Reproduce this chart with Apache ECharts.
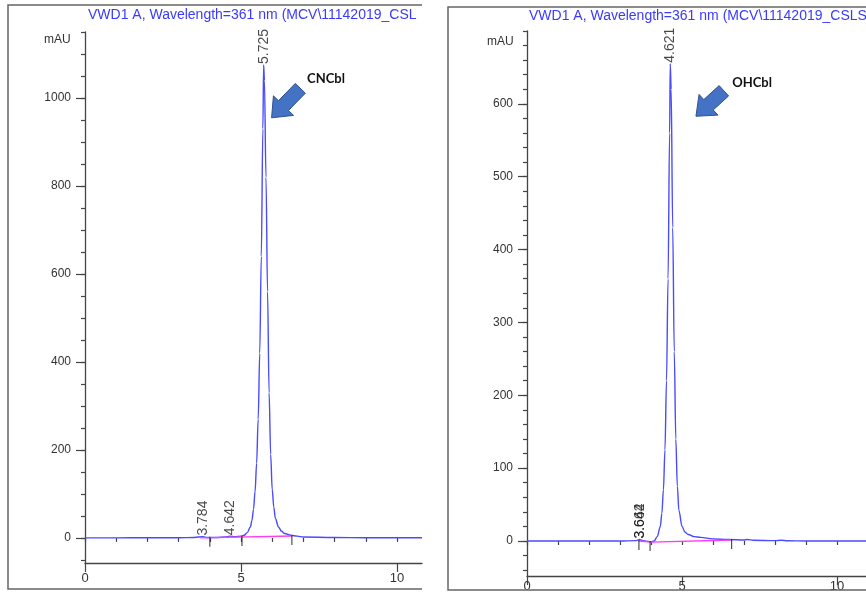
<!DOCTYPE html>
<html>
<head>
<meta charset="utf-8">
<title>VWD1 A chromatograms</title>
<script src="https://cdn.jsdelivr.net/npm/echarts@6/dist/echarts.min.js"></script>
<style>
  html, body { margin: 0; padding: 0; background: #fff; }
  #chart { width: 866px; height: 593px; }
</style>
</head>
<body>
<div id="chart"></div>
<script>
// Detector trace title (shared by both runs)
const traceTitle = 'VWD1 A, Wavelength=361 nm (MCV\\11142019_CSLS_STD.D)';

// CNCbl run: retention time (min) and absorbance (mAU)
const cnTimes  = [0, 1, 2, 3, 3.5, 3.784, 3.9, 4.2, 4.5, 4.642, 4.8, 5.0, 5.1, 5.2, 5.3, 5.35, 5.4, 5.45, 5.5, 5.55, 5.6, 5.65, 5.7, 5.725, 5.75, 5.8, 5.85, 5.9, 5.95, 6.0, 6.05, 6.1, 6.2, 6.3, 6.4, 6.6, 6.8, 7.0, 8.0, 9.0, 10.0, 10.8];
const cnSignal = [0, 0, 0.5, 0.5, 1, 3, 1, 1, 2, 4, 3, 4, 6, 12, 25, 40, 65, 105, 170, 270, 420, 640, 930, 1075, 1040, 820, 560, 330, 190, 110, 70, 45, 25, 15, 10, 6, 4, 2, 1, 0.5, 0.5, 0.5];
const cnPeakTimes   = [3.784, 4.642, 5.725];
const cnPeakHeights = [3, 4, 1075];
const cnBaseTimes   = [3.69, 6.63];
const cnBaseValues  = [0, 4.5];
const cnBaseMarkTimes  = [4.0, 5.03, 6.63];
const cnBaseMarkValues = [0.5, 2, 4.5];

// OHCbl run
const ohTimes  = [0, 2, 3, 3.5, 3.642, 3.664, 3.8, 4.0, 4.1, 4.2, 4.3, 4.35, 4.4, 4.45, 4.5, 4.55, 4.6, 4.621, 4.65, 4.7, 4.75, 4.8, 4.85, 4.9, 5.0, 5.1, 5.2, 5.4, 5.6, 6.0, 6.5, 7.0, 7.1, 7.3, 8.0, 8.2, 8.4, 9.0, 10.94];
const ohSignal = [0, 0, 0, 0.5, 2, 2, 0, -1, 0, 6, 20, 38, 70, 125, 220, 360, 560, 655, 620, 430, 260, 140, 75, 42, 20, 12, 9, 6, 5, 3, 2, 1.5, 2, 1, 0.5, 1, 0.3, 0, 0];
const ohPeakTimes   = [3.642, 3.664, 4.621];
const ohPeakHeights = [2, 2, 655];
const ohBaseTimes   = [3.6, 4.0, 6.6];
const ohBaseValues  = [0, -1.5, 1.5];
const ohBaseMarkTimes  = [3.61, 3.97, 6.6];
const ohBaseMarkValues = [0, -1.5, 1.5];

// Axis ticks and labels
const timeLabels = [0, 5, 10];
const timeMinorTicks = [0, 1, 2, 3, 4, 5, 6, 7, 8, 9, 10];
const cnAbsLabels = [0, 200, 400, 600, 800, 1000];
const cnAbsMinorTicks = [-50, 0, 50, 100, 150, 200, 250, 300, 350, 400, 450, 500, 550, 600, 650, 700, 750, 800, 850, 900, 950, 1000, 1050, 1100, 1150];
const ohAbsLabels = [0, 100, 200, 300, 400, 500, 600];
const ohAbsMinorTicks = [-40, -20, 0, 20, 40, 60, 80, 100, 120, 140, 160, 180, 200, 220, 240, 260, 280, 300, 320, 340, 360, 380, 400, 420, 440, 460, 480, 500, 520, 540, 560, 580, 600, 620, 640, 660, 680, 700];

const zip = (a, b) => a.map((v, i) => [v, b[i]]);

const FONT = 'Liberation Sans, Arial, sans-serif';
const AXIS = '#444';
const TRACE = '#4a4aff';
const BASE = '#ff3cf0';

function xAxes(gridIndex, max, labelMargin) {
  return [
    {
      type: 'value', gridIndex, min: 0, max,
      axisLine: { onZero: false, lineStyle: { color: AXIS, width: 1.3 } },
      axisTick: { customValues: timeLabels, length: 9, lineStyle: { color: AXIS, width: 1.2 } },
      axisLabel: { customValues: timeLabels, margin: labelMargin, color: '#333', fontFamily: FONT, fontSize: 13,
                   formatter: v => String(v) },
      splitLine: { show: false }
    },
    {
      type: 'value', gridIndex, min: 0, max, position: 'bottom',
      axisLine: { show: false },
      axisTick: { customValues: timeMinorTicks, length: 4, lineStyle: { color: AXIS, width: 1.2 } },
      axisLabel: { show: false },
      splitLine: { show: false }
    }
  ];
}

function yAxes(gridIndex, min, max, labels, minor) {
  return [
    {
      type: 'value', gridIndex, min, max,
      axisLine: { show: true, onZero: false, lineStyle: { color: AXIS, width: 1.3 } },
      axisTick: { show: true, customValues: labels, length: 9, lineStyle: { color: AXIS, width: 1.2 } },
      axisLabel: { customValues: labels, margin: 14, color: '#333', fontFamily: FONT, fontSize: 12,
                   formatter: v => String(v) },
      splitLine: { show: false }
    },
    {
      type: 'value', gridIndex, min, max, position: 'left',
      axisLine: { show: false },
      axisTick: { show: true, customValues: minor, length: 4, lineStyle: { color: AXIS, width: 1.2 } },
      axisLabel: { show: false },
      splitLine: { show: false }
    }
  ];
}

function traceSeries(xi, yi, times, values) {
  return {
    type: 'line', xAxisIndex: xi, yAxisIndex: yi,
    data: zip(times, values), showSymbol: false, smooth: 0.35, smoothMonotone: 'x',
    lineStyle: { color: TRACE, width: 1.4 }, silent: true, z: 3
  };
}

function baselineSeries(xi, yi, times, values) {
  return {
    type: 'line', xAxisIndex: xi, yAxisIndex: yi,
    data: zip(times, values), showSymbol: false,
    lineStyle: { color: BASE, width: 1.4 }, silent: true, z: 4
  };
}

function baseMarkSeries(xi, yi, times, values) {
  return {
    type: 'scatter', xAxisIndex: xi, yAxisIndex: yi,
    data: zip(times, values), symbol: 'rect', symbolSize: [1.2, 10], symbolOffset: [0, 4],
    itemStyle: { color: '#222' }, silent: true, z: 5
  };
}

function peakLabelSeries(xi, yi, times, heights) {
  return {
    type: 'scatter', xAxisIndex: xi, yAxisIndex: yi,
    data: zip(times, heights), symbolSize: 0, silent: true, z: 6,
    label: {
      show: true, position: 'top', distance: 1, rotate: 90,
      align: 'left', verticalAlign: 'middle',
      formatter: p => p.value[0].toFixed(3),
      color: '#1a1a1a', fontFamily: FONT, fontSize: 14
    }
  };
}

const chart = echarts.init(document.getElementById('chart'), null, { renderer: 'canvas' });

chart.setOption({
  animation: false,
  backgroundColor: '#ffffff',
  grid: [
    { left: 85, top: 32, width: 337, height: 531 },
    { left: 527, top: 31, width: 339, height: 545 }
  ],
  xAxis: [].concat(xAxes(0, 10.8, 9), xAxes(1, 10.935, 4)),
  yAxis: [].concat(
    yAxes(0, -57, 1150, cnAbsLabels, cnAbsMinorTicks),
    yAxes(1, -48, 700, ohAbsLabels, ohAbsMinorTicks)
  ),
  series: [
    traceSeries(0, 0, cnTimes, cnSignal),
    baselineSeries(0, 0, cnBaseTimes, cnBaseValues),
    baseMarkSeries(0, 0, cnBaseMarkTimes, cnBaseMarkValues),
    peakLabelSeries(0, 0, cnPeakTimes, cnPeakHeights),
    traceSeries(2, 2, ohTimes, ohSignal),
    baselineSeries(2, 2, ohBaseTimes, ohBaseValues),
    baseMarkSeries(2, 2, ohBaseMarkTimes, ohBaseMarkValues),
    peakLabelSeries(2, 2, ohPeakTimes, ohPeakHeights)
  ]
});

// Block arrow polygon from tail point to tip point
function arrowPoints(tail, tip) {
  const dx = tip[0] - tail[0], dy = tip[1] - tail[1];
  const len = Math.hypot(dx, dy);
  const ux = dx / len, uy = dy / len;
  const nx = -uy, ny = ux;
  const shaft = 7, head = 14, headLen = 17;
  const bx = tip[0] - ux * headLen, by = tip[1] - uy * headLen;
  return [
    [tail[0] + nx * shaft, tail[1] + ny * shaft],
    [bx + nx * shaft, by + ny * shaft],
    [bx + nx * head, by + ny * head],
    tip,
    [bx - nx * head, by - ny * head],
    [bx - nx * shaft, by - ny * shaft],
    [tail[0] - nx * shaft, tail[1] - ny * shaft]
  ];
}

const px = (gi, pt) => chart.convertToPixel({ xAxisIndex: gi * 2, yAxisIndex: gi * 2 }, pt);

const cnArrowTail = px(0, [6.9, 1022]);
const cnArrowTip  = px(0, [5.98, 955]);
const ohArrowTail = px(1, [6.35, 618]);
const ohArrowTip  = px(1, [5.45, 583]);

const titleStyle = {
  text: traceTitle, fill: '#3a3aff', font: '14px ' + FONT
};

chart.setOption({
  graphic: [
    // panel frames
    { type: 'polyline', shape: { points: [[422, 5], [8, 5], [8, 589], [422, 589]] },
      style: { stroke: '#666', lineWidth: 1.5, fill: null }, z: 1 },
    { type: 'polyline', shape: { points: [[866, 7], [448, 7], [448, 590], [866, 590]] },
      style: { stroke: '#666', lineWidth: 1.5, fill: null }, z: 1 },
    // trace titles (the left one is cut at its panel edge)
    { type: 'text', left: 88, top: 8,
      style: Object.assign({}, titleStyle, { width: 336, overflow: 'truncate', ellipsis: '' }), z: 10 },
    { type: 'text', left: 529, top: 9, style: titleStyle, z: 10 },
    // gap between the two panels
    { type: 'rect', shape: { x: 423, y: 0, width: 24, height: 593 },
      style: { fill: '#ffffff' }, z: 20 },
    // unit labels
    { type: 'text', left: 44, top: 34,
      style: { text: 'mAU', fill: '#333', font: '12px ' + FONT }, z: 10 },
    { type: 'text', left: 487, top: 36,
      style: { text: 'mAU', fill: '#333', font: '12px ' + FONT }, z: 10 },
    // compound callouts
    { type: 'polygon', shape: { points: arrowPoints(cnArrowTail, cnArrowTip) },
      style: { fill: '#4472c4', stroke: '#2f528f', lineWidth: 1 }, z: 12 },
    { type: 'text', x: 326, y: 79,
      style: { text: 'CNCbl', fill: '#111', font: 'bold 13px Lato, "Noto Sans", sans-serif',
               align: 'center', verticalAlign: 'middle' }, z: 12 },
    { type: 'polygon', shape: { points: arrowPoints(ohArrowTail, ohArrowTip) },
      style: { fill: '#4472c4', stroke: '#2f528f', lineWidth: 1 }, z: 12 },
    { type: 'text', x: 752, y: 83,
      style: { text: 'OHCbl', fill: '#111', font: 'bold 13px Lato, "Noto Sans", sans-serif',
               align: 'center', verticalAlign: 'middle' }, z: 12 }
  ]
});
</script>
</body>
</html>
